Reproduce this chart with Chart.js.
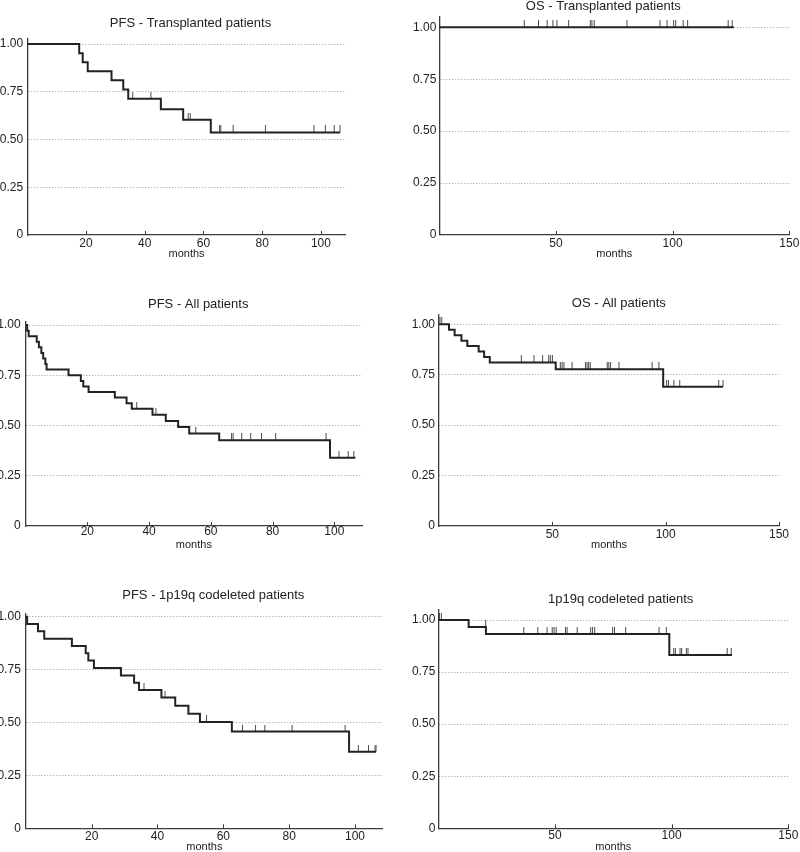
<!DOCTYPE html>
<html><head><meta charset="utf-8">
<script src="https://cdn.jsdelivr.net/npm/chart.js@4.4.0/dist/chart.umd.min.js"></script>
<style>
html,body{margin:0;padding:0;background:#fff;overflow:hidden;width:800px;height:852px;}
#wrap{position:relative;width:800px;height:852px;overflow:hidden;background:#fff;}
#wrap canvas{position:absolute;}
</style></head>
<body><div id="wrap"></div>
<script>
// ---------------- DATA ----------------
const yTickValues = [0, 0.25, 0.5, 0.75, 1];
const yTickLabels = ['0', '0.25', '0.50', '0.75', '1.00'];
const pfsXTicks = [20, 40, 60, 80, 100];
const osXTicks = [50, 100, 150];
const xAxisTitle = 'months';

// Panel 1: PFS - Transplanted patients
const pfsTxTimes  = [17.7, 18.9, 20.6, 28.7, 32.7, 34.4, 45.5, 53.1, 62.5];
const pfsTxSurv   = [0.952, 0.905, 0.857, 0.810, 0.762, 0.714, 0.659, 0.604, 0.537];
const pfsTxEnd    = 106.5;
const pfsTxCensor = [35.9, 42.1, 54.8, 55.5, 65.5, 65.9, 70.1, 81.1, 97.6, 101.5, 104.5, 106.5];

// Panel 2: OS - Transplanted patients
const osTxTimes  = [];
const osTxSurv   = [];
const osTxEnd    = 126.2;
const osTxCensor = [36.4, 42.5, 46.2, 48.7, 50.4, 55.4, 64.7, 65.4, 66.4, 80.4, 94.6, 97.6, 100.4, 101.3, 104.5, 106.4, 123.8, 125.5];

// Panel 3: PFS - All patients
const pfsAllTimes  = [0.5, 1.0, 3.6, 4.3, 5.1, 5.7, 6.4, 6.8, 13.9, 17.9, 18.7, 20.4, 28.9, 32.7, 34.4, 41.1, 45.4, 49.4, 53.0, 62.7, 98.6];
const pfsAllSurv   = [0.972, 0.944, 0.917, 0.889, 0.861, 0.833, 0.806, 0.778, 0.750, 0.722, 0.694, 0.667, 0.639, 0.611, 0.583, 0.554, 0.523, 0.492, 0.460, 0.426, 0.340];
const pfsAllEnd    = 106.8;
const pfsAllCensor = [36.0, 42.2, 55.1, 66.7, 67.2, 70.0, 72.9, 76.4, 81.0, 97.3, 101.5, 104.5, 106.3];

// Panel 4: OS - All patients
const osAllTimes  = [4.4, 6.9, 9.9, 12.5, 17.5, 19.9, 22.4, 51.5, 98.9];
const osAllSurv   = [0.973, 0.946, 0.919, 0.892, 0.865, 0.838, 0.811, 0.777, 0.691];
const osAllEnd    = 125.3;
const osAllCensor = [0.4, 1.2, 36.3, 41.9, 45.7, 48.4, 49.1, 50.0, 53.5, 54.3, 55.1, 58.7, 64.6, 65.3, 66.0, 66.7, 74.2, 74.9, 75.7, 79.4, 94.0, 97.0, 100.4, 101.2, 103.6, 106.2, 123.4, 125.3];

// Panel 5: PFS - 1p19q codeleted patients
const pfsCodTimes  = [0.4, 3.7, 5.6, 14.0, 18.2, 19.0, 20.7, 28.9, 32.9, 34.4, 41.2, 45.4, 49.4, 52.9, 62.6, 98.2];
const pfsCodSurv   = [0.966, 0.931, 0.896, 0.862, 0.827, 0.793, 0.757, 0.722, 0.688, 0.654, 0.618, 0.579, 0.541, 0.502, 0.457, 0.362];
const pfsCodEnd    = 106.4;
const pfsCodCensor = [35.9, 42.3, 54.9, 65.8, 69.8, 72.6, 80.9, 97.0, 101.0, 104.1, 106.1, 106.4];

// Panel 6: 1p19q codeleted patients (OS)
const osCodTimes  = [13.0, 20.4, 99.0];
const osCodSurv   = [0.966, 0.933, 0.832];
const osCodEnd    = 125.9;
const osCodCensor = [0.5, 1.3, 20.3, 36.6, 42.6, 46.6, 48.8, 49.6, 50.5, 54.5, 55.2, 59.5, 65.3, 66.1, 67.0, 74.7, 75.5, 80.3, 94.6, 97.7, 100.9, 101.6, 103.6, 104.3, 106.3, 107.0, 123.8, 125.5];

const panelTitles = ['PFS - Transplanted patients', 'OS - Transplanted patients', 'PFS - All patients', 'OS - All patients', 'PFS - 1p19q codeleted patients', '1p19q codeleted patients'];

// ---------------- LAYOUT (positions/styles) ----------------
const geom = [
  {L:27.2,  ppm:2.9375, xmax:108.5, B:235,   Y1:44,    ymax:1.026, Xt:190.5, Yt:23.5,  xPad:1,    yPad:4},
  {L:439.3, ppm:2.3333, xmax:150,   B:235,   Y1:27.3,  ymax:1.05,  Xt:603.3, Yt:6,     xPad:1,    yPad:3},
  {L:25.6,  ppm:3.0875, xmax:109,   B:526,   Y1:325,   ymax:1.017, Xt:198.2, Yt:304.5, xPad:-1.5, yPad:5},
  {L:439.0, ppm:2.2667, xmax:150,   B:526,   Y1:324.3, ymax:1.05,  Xt:618.8, Yt:303.8, xPad:1,    yPad:4},
  {L:25.8,  ppm:3.2917, xmax:108.5, B:828.3, Y1:616.7, ymax:1.016, Xt:213.3, Yt:595.5, xPad:1,    yPad:5},
  {L:438.3, ppm:2.3333, xmax:150,   B:828.3, Y1:620,   ymax:1.048, Xt:620.7, Yt:599.5, xPad:0,    yPad:3}
];

const series = [
  {times:pfsTxTimes,  surv:pfsTxSurv,  end:pfsTxEnd,  censor:pfsTxCensor,  xt:pfsXTicks, step:20},
  {times:osTxTimes,   surv:osTxSurv,   end:osTxEnd,   censor:osTxCensor,   xt:osXTicks,  step:50},
  {times:pfsAllTimes, surv:pfsAllSurv, end:pfsAllEnd, censor:pfsAllCensor, xt:pfsXTicks, step:20},
  {times:osAllTimes,  surv:osAllSurv,  end:osAllEnd,  censor:osAllCensor,  xt:osXTicks,  step:50},
  {times:pfsCodTimes, surv:pfsCodSurv, end:pfsCodEnd, censor:pfsCodCensor, xt:pfsXTicks, step:20},
  {times:osCodTimes,  surv:osCodSurv,  end:osCodEnd,  censor:osCodCensor,  xt:osXTicks,  step:50}
];

Chart.defaults.font.family = "'Liberation Sans', Arial, Helvetica, sans-serif";

function stepData(times, surv, end) {
  const pts = [{x:0, y:1}];
  times.forEach((t, i) => pts.push({x:t, y:surv[i]}));
  pts.push({x:end, y: surv.length ? surv[surv.length - 1] : 1});
  return pts;
}
function levelAt(times, surv, t) {
  let s = 1;
  for (let i = 0; i < times.length; i++) if (times[i] < t) s = surv[i];
  return s;
}

// censor tick image (vertical stroke above the point)
const censorMark = document.createElement('canvas');
censorMark.width = 3; censorMark.height = 14;
(function(){ const c = censorMark.getContext('2d'); c.fillStyle = '#4a4a4a'; c.fillRect(1, 0, 1, 7); })();

const innerTicks = {
  id: 'innerTicks',
  afterDraw(chart) {
    const s = chart.scales.x, ctx = chart.ctx, b = chart.chartArea.bottom;
    ctx.save();
    ctx.strokeStyle = '#3c3c3c'; ctx.lineWidth = 1;
    s.ticks.forEach(t => {
      if (t.value <= 0) return;
      const px = Math.round(s.getPixelForValue(t.value)) + 0.5;
      ctx.beginPath(); ctx.moveTo(px, b); ctx.lineTo(px, b - 4); ctx.stroke();
    });
    ctx.restore();
  }
};

const wrap = document.getElementById('wrap');
const Hx = 25.2;

geom.forEach((g, idx) => {
  const sr = series[idx];
  const isOS = g.xmax === 150;
  const R = g.L + g.xmax * g.ppm;
  const T = g.B - g.ymax * (g.B - g.Y1);
  const Emin = Math.ceil(R + (isOS ? 11 : 0));
  const E = Math.max(Emin, Math.floor(2 * g.Xt - (Math.floor(g.L) - 30)));
  const cl = Math.floor(2 * g.Xt - E);
  const P = 2 * g.Xt - E - cl;
  const W = g.L - cl - P;
  const Wr = E - R;
  const cw = E - cl;
  const ct = Math.floor(g.Yt - 7.8 - 2);
  const pt = g.Yt - 7.8 - ct;
  const pbT = T - g.Yt - 7.8;
  const bottomEdge = g.B + Hx;
  const ch = Math.ceil(bottomEdge) + 1 - ct;
  const padBottom = ct + ch - bottomEdge;

  const cv = document.createElement('canvas');
  cv.width = cw; cv.height = ch;
  cv.style.left = cl + 'px'; cv.style.top = ct + 'px';
  cv.style.width = cw + 'px'; cv.style.height = ch + 'px';
  wrap.appendChild(cv);

  const censorPts = sr.censor.map(t => ({x:t, y: levelAt(sr.times, sr.surv, t)}));

  new Chart(cv, {
    type: 'line',
    data: {
      datasets: [
        {data: stepData(sr.times, sr.surv, sr.end), stepped: 'before', borderColor: '#222', borderWidth: 2,
         pointRadius: 0, pointHoverRadius: 0, fill: false, tension: 0, yAxisID: 'y', xAxisID: 'x'},
        {data: censorPts, showLine: false, pointStyle: censorMark, pointRadius: 3, pointHoverRadius: 3,
         yAxisID: 'y', xAxisID: 'x', clip: false}
      ]
    },
    options: {
      responsive: false, animation: false, devicePixelRatio: 1, events: [],
      layout: {padding: {left: P, right: 0, top: 0, bottom: padBottom}},
      plugins: {
        legend: {display: false}, tooltip: {enabled: false},
        title: {display: true, text: panelTitles[idx], color: '#222', font: {size: 13, weight: 'normal'},
                padding: {top: pt, bottom: pbT}}
      },
      scales: {
        x: {
          type: 'linear', position: 'bottom', min: 0, max: g.xmax,
          afterFit(s) { s.height = Hx; s.paddingLeft = 0; s.paddingRight = 0; },
          grid: {display: false, drawTicks: false},
          border: {display: true, color: '#3c3c3c', width: 1.3},
          ticks: {stepSize: sr.step, includeBounds: false, autoSkip: false, maxRotation: 0, padding: g.xPad,
                  font: {size: 12}, color: '#222',
                  callback: v => sr.xt.includes(v) ? String(v) : ''},
          title: {display: true, text: xAxisTitle, color: '#222', font: {size: 11}, padding: {top: 0, bottom: 0}}
        },
        y: {
          type: 'linear', position: 'left', min: 0, max: g.ymax,
          afterFit(s) { s.width = W; s.paddingTop = 0; s.paddingBottom = 0; },
          grid: {display: true, drawTicks: false, lineWidth: 1,
                 color: c => (c.tick && c.tick.value === 0) ? 'rgba(0,0,0,0)' : '#9a9a9a'},
          border: {display: true, color: '#3c3c3c', width: 1.3, dash: [1, 2]},
          ticks: {stepSize: 0.25, includeBounds: false, padding: g.yPad, font: {size: 12}, color: '#222',
                  callback: v => { const k = yTickValues.indexOf(v); return k >= 0 ? yTickLabels[k] : ''; }}
        },
        yr: {
          type: 'linear', position: 'right', display: true,
          afterFit(s) { s.width = Wr; s.paddingTop = 0; s.paddingBottom = 0; },
          grid: {display: false, drawTicks: false}, border: {display: false}, ticks: {display: false}
        }
      }
    },
    plugins: [innerTicks]
  });
});
</script>
</body></html>
